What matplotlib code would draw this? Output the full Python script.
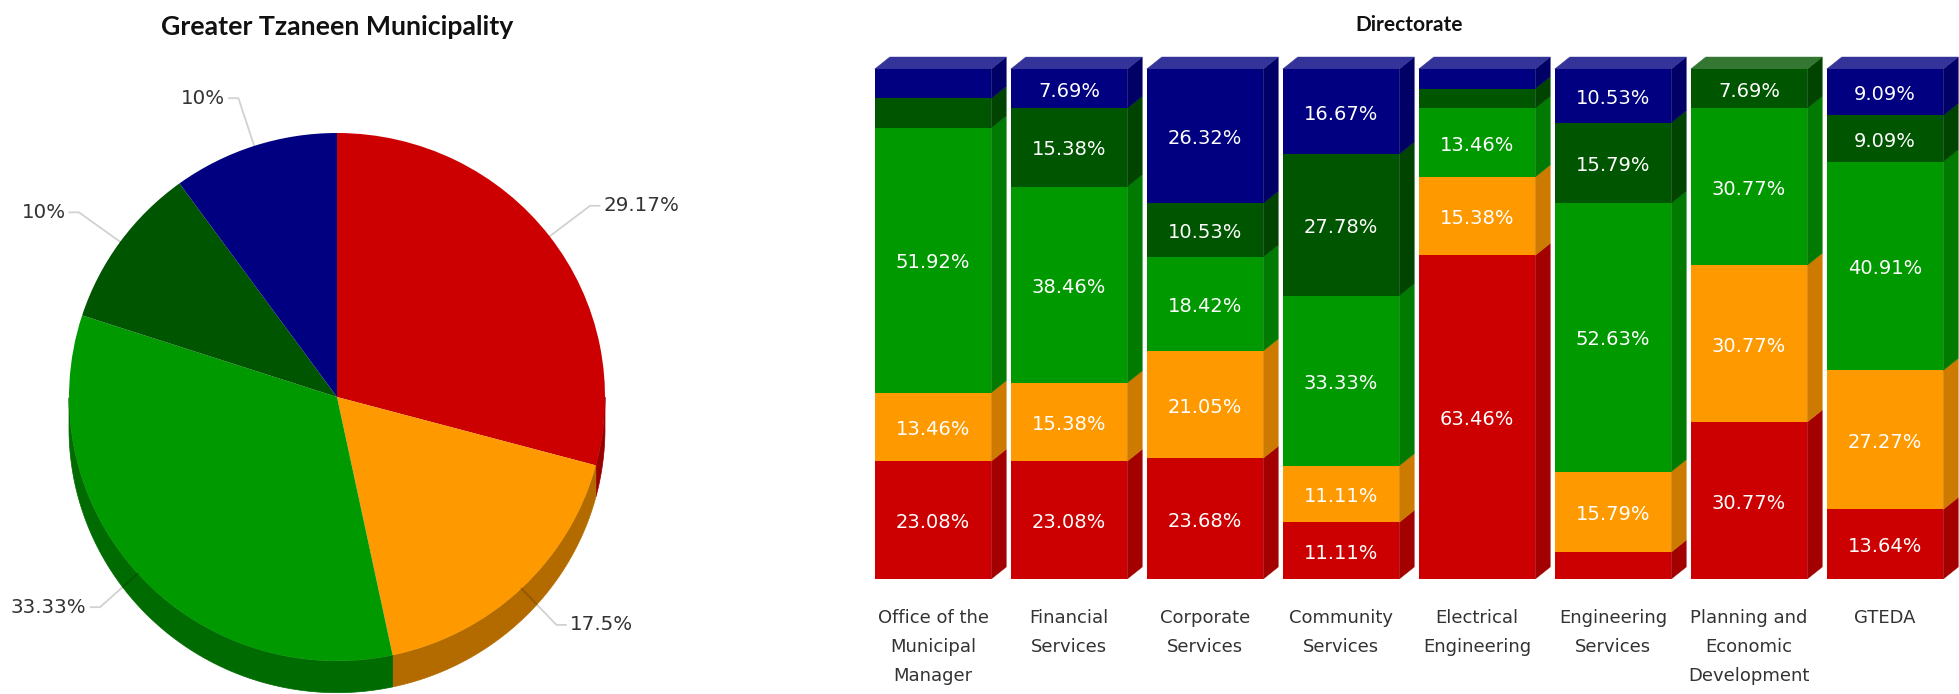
import numpy as np
import matplotlib
matplotlib.use("Agg")
import matplotlib.pyplot as plt
from matplotlib.patches import Polygon

W, H = 1959, 694

# pie
pie_values = [29.17, 17.5, 33.33, 10, 10]
pie_colors = ["#CC0000", "#FF9900", "#009900", "#005500", "#000080"]
pie_side = ["#990000", "#B36B00", "#006B00", "#003B00", "#00005A"]

# stacked bars
directorates = [
    "Office of the\nMunicipal\nManager", "Financial\nServices", "Corporate\nServices",
    "Community\nServices", "Electrical\nEngineering", "Engineering\nServices",
    "Planning and\nEconomic\nDevelopment", "GTEDA",
]
red_vals = [23.08, 23.08, 23.68, 11.11, 63.46, 5.26, 30.77, 13.64]
orange_vals = [13.46, 15.38, 21.05, 11.11, 15.38, 15.79, 30.77, 27.27]
green_vals = [51.92, 38.46, 18.42, 33.33, 13.46, 52.63, 30.77, 40.91]
dkgreen_vals = [5.77, 15.38, 10.53, 27.78, 3.85, 15.79, 7.69, 9.09]
navy_vals = [5.77, 7.69, 26.32, 16.67, 3.85, 10.53, 0, 9.09]
series = [red_vals, orange_vals, green_vals, dkgreen_vals, navy_vals]
bar_side = ["#A30000", "#CC7A00", "#007A00", "#004400", "#000066"]
bar_top = ["#D63333", "#FFAD33", "#33AD33", "#337733", "#333399"]

LABEL_FONT = ["DejaVu Sans"]
TITLE_FONT = ["Lato", "DejaVu Sans"]


def axes_from_pixels(fig, left, top, right, bottom):
    return fig.add_axes([left / W, 1 - bottom / H, (right - left) / W, (bottom - top) / H])


def draw_pie(fig):
    ax = axes_from_pixels(fig, 69, 133, 605, 661)
    wedges, _ = ax.pie(pie_values, colors=pie_colors, startangle=90, counterclock=False,
                       radius=1, wedgeprops={"linewidth": 0, "zorder": 3})
    ax.set_aspect("auto")
    ax.set_xlim(-1, 1)
    ax.set_ylim(-1, 1)
    depth = 0.12

    # side wall, only the lower half of the rim shows
    edges = 90 - np.cumsum([0] + pie_values) * 3.6
    for i in range(len(pie_values)):
        t = np.radians(np.linspace(edges[i], edges[i + 1], 120))
        t = t[np.sin(t) < 0]
        if len(t) == 0:
            continue
        upper = np.column_stack([np.cos(t), np.sin(t)])
        lower = upper[::-1] - [0, depth]
        ax.add_patch(Polygon(np.vstack([upper, lower]), closed=True, facecolor=pie_side[i],
                             edgecolor=pie_side[i], linewidth=0.5, zorder=2, clip_on=False))

    # leader lines
    for i, v in enumerate(pie_values):
        mid = np.radians((edges[i] + edges[i + 1]) / 2)
        ex, ey = 1.19 * np.cos(mid), 1.19 * np.sin(mid)
        side = 1 if ex > 0 else -1
        ax.plot([np.cos(mid), ex, ex + side * 0.035], [np.sin(mid), ey, ey], color="black",
                alpha=0.18, lw=1.3, zorder=4, clip_on=False)
        ax.text(ex + side * 0.05, ey, f"{v:g}%", ha="left" if side > 0 else "right", va="center",
                fontsize=14.3, color="#333333", family=LABEL_FONT, zorder=5, clip_on=False)


def draw_bars(fig):
    ax = axes_from_pixels(fig, 865, 69, 1953, 579)
    x = np.arange(len(directorates))
    width = 116.5 / 136
    dx = 15 / 136
    dy = 12 / 510 * 100

    bottom = np.zeros(len(x))
    for s, vals in enumerate(series):
        vals = np.array(vals)
        bars = ax.bar(x, vals, width, bottom=bottom, color=pie_colors[s], linewidth=0, zorder=3)
        labels = [f"{v:.2f}%" if v >= 7 else "" for v in vals]
        ax.bar_label(bars, labels=labels, label_type="center", color="white", fontsize=14,
                     family=LABEL_FONT, zorder=6, padding=-1.8)
        for i in x:
            if vals[i] == 0:
                continue
            r = x[i] + width / 2
            y0, y1 = bottom[i], bottom[i] + vals[i]
            ax.add_patch(Polygon([(r, y0), (r + dx, y0 + dy), (r + dx, y1 + dy), (r, y1)],
                                 facecolor=bar_side[s], edgecolor=bar_side[s], linewidth=0.3,
                                 zorder=2, clip_on=False))
            # top face belongs to the highest non empty segment
            if abs(y1 - 100) < 0.1:
                l = x[i] - width / 2
                ax.add_patch(Polygon([(l, y1), (l + dx, y1 + dy), (r + dx, y1 + dy), (r, y1)],
                                     facecolor=bar_top[s], edgecolor=bar_top[s], linewidth=0.3,
                                     zorder=2, clip_on=False))
        bottom = bottom + vals

    ax.set_xlim(-0.5, len(x) - 0.5)
    ax.set_ylim(0, 100)
    ax.set_yticks([])
    ax.set_xticks(x)
    ax.set_xticklabels(directorates, fontsize=13, color="#333333", family=LABEL_FONT, linespacing=1.8)
    ax.tick_params(axis="x", length=0, pad=21.5)
    for sp in ax.spines.values():
        sp.set_visible(False)
    ax.patch.set_alpha(0)


def main():
    fig = plt.figure(figsize=(W / 100, H / 100), dpi=100, facecolor="white")
    draw_pie(fig)
    draw_bars(fig)
    fig.text(337 / W, 1 - 27 / H, "Greater Tzaneen Municipality", ha="center", va="center",
             fontsize=19.2, fontweight="bold", color="#111111", family=TITLE_FONT)
    fig.text(1409 / W, 1 - 25 / H, "Directorate", ha="center", va="center",
             fontsize=15, fontweight="bold", color="#111111", family=TITLE_FONT)
    fig.savefig("out.png", dpi=100)


if __name__ == "__main__":
    main()
